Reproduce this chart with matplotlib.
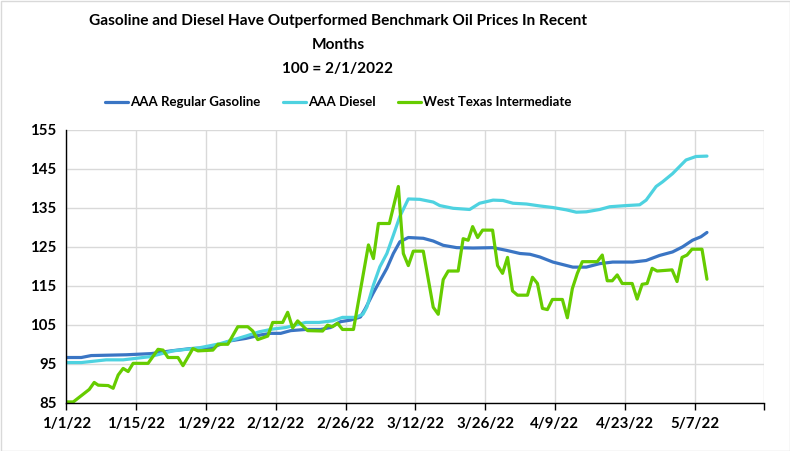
import matplotlib
matplotlib.use("Agg")
import matplotlib.pyplot as plt
import matplotlib.dates as mdates
import pandas as pd
import numpy as np

plt.rcParams['font.family'] = ['Lato', 'DejaVu Sans']

start = pd.Timestamp("2022-01-01")

# Day offsets from 1/1/2022 and index values (100 = 2/1/2022)
gas_days = [0, 3, 5, 12, 17, 21, 25, 29, 33, 36, 39, 41, 43, 45, 48, 51, 53, 55, 57, 59, 60, 61.5, 63, 64.3, 65.6, 66.9, 68.6,
            71.6, 73.6, 75.6, 78.3, 81.6, 85.6, 88.3, 91, 93, 95, 97.6, 101.6, 104.3, 107, 109.6, 113.6, 116.3, 119,
            121.6, 123.6, 125.6, 127.3, 128.5]
gas_vals = [96.6, 96.6, 97.1, 97.3, 97.6, 98.3, 98.9, 99.1, 100.9, 101.5, 102.4, 102.8, 102.8, 103.5, 103.8, 103.8, 104.3,
            105.8, 106.2, 107.0, 109.2, 113.0, 116.5, 119.5, 123.3, 126.3, 127.4,
            127.2, 126.5, 125.4, 124.8, 124.7, 124.8, 124.1, 123.3, 123.1, 122.4, 121.1, 119.8, 119.8, 120.7, 121.1,
            121.1, 121.5, 122.8, 123.7, 125.0, 126.7, 127.6, 128.7]

dsl_days = [0, 3, 8, 11.4, 14.7, 16.7, 21.4, 26.7, 30.7, 33.4, 36, 38.7, 41.4, 44, 48, 50.7, 53.4, 55.4, 58, 59.5, 60.3,
            61.6, 62.9, 64.3, 65.6, 66.9, 68.6, 70.9, 73.6, 74.9, 77.6, 80.9, 82.9, 85.6, 87.6, 89.6, 92.3, 95, 97.6,
            100.3, 102.3, 104.3, 107, 109, 112.3, 115, 116.3, 118.3, 119.6, 121.6, 124.3, 126.3, 128.5]
dsl_vals = [95.3, 95.3, 96.0, 96.0, 96.5, 96.8, 98.3, 99.1, 100.1, 101.1, 102.1, 103.2, 103.9, 104.3, 105.6, 105.6, 106.0,
            106.9, 106.9, 107.7, 109.6, 115.2, 119.9, 123.3, 128.0, 132.8, 137.3, 137.2, 136.5, 135.6, 134.9, 134.6,
            136.2, 137.0, 136.9, 136.2, 136.0, 135.5, 135.1, 134.5, 133.9, 134.0, 134.6, 135.3, 135.6, 135.8, 137.0,
            140.5, 141.7, 143.8, 147.3, 148.2, 148.3]

wti_days = [0, 1.4, 4.6, 5.6, 6.4, 8.4, 9.4, 10.4, 11.4, 12.4, 13.4, 16.4, 18.4, 19.4, 20.4, 22.4, 23.4, 25.4, 26.4,
            29.4, 30.4, 32.4, 34.4, 36.4, 37.4, 38.4, 40.4, 41.4, 43.4, 44.4, 45.4, 46.4, 48.4, 51.4, 52.4, 53.4, 54.4,
            55.4, 57.6, 60.6, 61.6, 62.6, 64.8, 66.6, 67.6, 68.6, 69.6, 71.6, 73.6, 74.6, 75.6, 76.6, 78.6, 79.6, 80.6,
            81.5, 82.5, 83.5, 85.5, 86.5, 87.5, 88.5, 89.5, 90.5, 92.5, 93.5, 94.5, 95.5, 96.5, 97.5, 99.5, 100.5,
            101.5, 102.5, 103.5, 106.5, 107.5, 108.5, 109.5, 110.5, 111.5, 113.5, 114.5, 115.5, 116.5, 117.5, 118.5,
            121.5, 122.5, 123.5, 124.5, 125.5, 127.5, 128.5]
wti_vals = [85.2, 85.2, 88.4, 90.2, 89.5, 89.4, 88.7, 92.1, 93.8, 93.0, 95.1, 95.1, 98.7, 98.5, 96.6, 96.6, 94.5, 98.9,
            98.3, 98.5, 100.0, 100.0, 104.5, 104.5, 103.4, 101.2, 102.1, 105.6, 105.6, 108.2, 104.2, 106.0, 103.5,
            103.4, 104.9, 104.5, 105.4, 103.8, 103.8, 125.5, 122.0, 131.0, 131.0, 140.5, 123.3, 120.2, 123.9, 123.9,
            109.5, 107.7, 116.6, 118.8, 118.8, 127.1, 126.7, 130.2, 127.4, 129.3, 129.3, 120.2, 118.2, 122.3, 113.7,
            112.6, 112.6, 117.2, 115.6, 109.2, 108.9, 111.5, 111.5, 106.8, 114.3, 118.2, 121.2, 121.2, 122.9, 116.3,
            116.3, 117.8, 115.6, 115.6, 111.6, 115.4, 115.6, 119.5, 118.8, 119.1, 116.1, 122.3, 122.9, 124.4, 124.4,
            116.7]

series_names = ["AAA Regular Gasoline", "AAA Diesel", "West Texas Intermediate"]
colors = ["#3A75C4", "#4ED2E0", "#66CC00"]

tick_dates = pd.date_range("2022-01-01", "2022-05-21", freq="14D")
tick_labels = [f"{d.month}/{d.day}/22" for d in tick_dates[:-1]] + [""]
title = "Gasoline and Diesel Have Outperformed Benchmark Oil Prices In Recent\nMonths\n100 = 2/1/2022"


def to_dates(days):
    return [start + pd.Timedelta(days=float(d)) for d in days]


fig = plt.figure(figsize=(7.9, 4.51), dpi=100)
ax = fig.add_axes([66.3 / 790, 1 - 402.7 / 451, (764.3 - 66.3) / 790, (402.7 - 130) / 451])

for days, vals, name, c in zip([gas_days, dsl_days, wti_days], [gas_vals, dsl_vals, wti_vals], series_names, colors):
    ax.plot(to_dates(days), vals, color=c, lw=2.3, label=name, solid_joinstyle='round', solid_capstyle='round')

ax.set_xlim(tick_dates[0], tick_dates[-1])
ax.set_ylim(85, 155)
ax.set_yticks(np.arange(85, 156, 10))
ax.set_xticks(tick_dates)
ax.set_xticklabels(tick_labels)
ax.grid(True, color="#D9D9D9", lw=1)
ax.set_axisbelow(True)
for s in ["top", "right"]:
    ax.spines[s].set_visible(False)
for s in ["left", "bottom"]:
    ax.spines[s].set_color("black")
    ax.spines[s].set_linewidth(1)
ax.tick_params(axis='x', length=5, width=1, direction='out', pad=5, labelsize=10.8, colors='black')
ax.tick_params(axis='y', length=0, pad=7, labelsize=10.8, colors='black')
for lab in ax.get_xticklabels() + ax.get_yticklabels():
    lab.set_fontweight('bold')

cx = 338 / 790
fig.text(cx, 1 - 13.5 / 451, title, ha='center', va='top', fontsize=11.1, fontweight='bold',
         linespacing=1.95)

leg = fig.legend(loc='center', bbox_to_anchor=(cx, 1 - 102.5 / 451), ncol=3, frameon=False,
                 fontsize=9.5, handlelength=1.75, handletextpad=0.15, columnspacing=1.7)
for t in leg.get_texts():
    t.set_fontweight('bold')
for h in leg.get_lines():
    h.set_linewidth(2.3)

border = plt.Rectangle((0.5 / 790, 0.5 / 451), 1 - 1 / 790, 1 - 1 / 451, transform=fig.transFigure,
                       fill=False, edgecolor="#D9D9D9", lw=1)
fig.patches.append(border)

fig.savefig("out.png", dpi=100)
